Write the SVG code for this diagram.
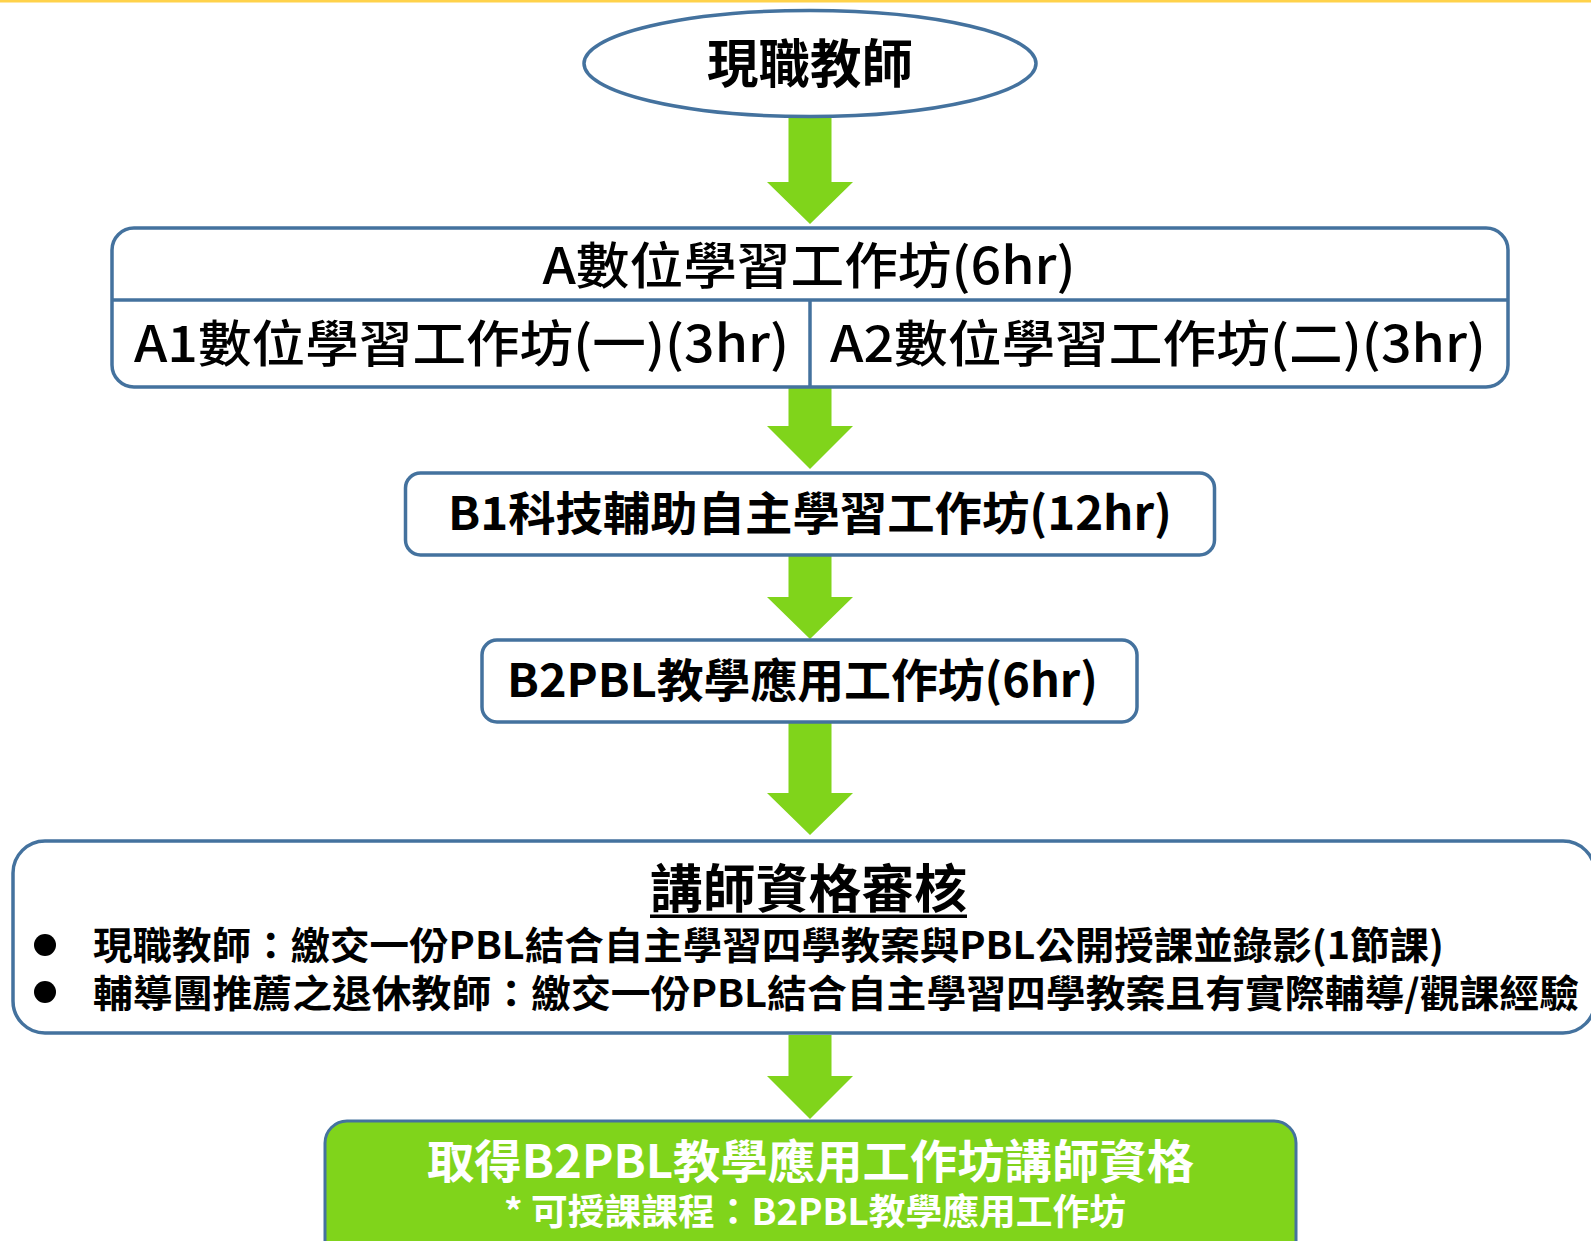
<svg xmlns="http://www.w3.org/2000/svg" width="1591" height="1241" viewBox="0 0 1591 1241">
  <style>
    text { font-family: "Noto Sans CJK TC", "Noto Sans CJK SC", "Noto Sans", sans-serif; fill: #000; }
    .box { fill: #ffffff; stroke: #44729E; stroke-width: 3.5; }
    .line { stroke: #44729E; stroke-width: 3.5; fill: none; }
    .arrow { fill: #80D41B; stroke: none; }
    .c { text-anchor: middle; }
    .m { font-weight: 500; }
    .b { font-weight: 700; }
    .w { fill: #ffffff; }
  </style>
  <rect x="0" y="0" width="1591" height="1241" fill="#ffffff"/>
  <rect x="0" y="0" width="1591" height="2.5" fill="#FFD24A"/>

  <g id="connectors">
    <polygon class="arrow" points="788.5,116 831.5,116 831.5,182 853,182 810,224 767,182 788.5,182"/>
    <polygon class="arrow" points="788.5,388 831.5,388 831.5,426 853,426 810,469 767,426 788.5,426"/>
    <polygon class="arrow" points="788.5,556 831.5,556 831.5,597 853,597 810,639 767,597 788.5,597"/>
    <polygon class="arrow" points="788.5,723 831.5,723 831.5,793 853,793 810,835 767,793 788.5,793"/>
    <polygon class="arrow" points="788.5,1035 831.5,1035 831.5,1076 853,1076 810,1119 767,1076 788.5,1076"/>
  </g>

  <g id="start">
    <ellipse class="box" cx="810" cy="63.5" rx="226" ry="53"/>
    <text class="c b" x="810" y="83" font-size="52" textLength="206" lengthAdjust="spacingAndGlyphs">現職教師</text>
  </g>

  <g id="nodeA">
    <rect class="box" x="112" y="228" width="1396" height="159" rx="22"/>
    <line class="line" x1="112" y1="300" x2="1508" y2="300"/>
    <line class="line" x1="810" y1="300" x2="810" y2="387"/>
    <text class="c m" x="809" y="284" font-size="50" textLength="533" lengthAdjust="spacingAndGlyphs">A數位學習工作坊(6hr)</text>
  </g>
  <g id="nodeA1">
    <text class="c m" x="461.5" y="362" font-size="50" textLength="655" lengthAdjust="spacingAndGlyphs">A1數位學習工作坊(一)(3hr)</text>
  </g>
  <g id="nodeA2">
    <text class="c m" x="1158" y="362" font-size="50" textLength="656" lengthAdjust="spacingAndGlyphs">A2數位學習工作坊(二)(3hr)</text>
  </g>

  <g id="nodeB1">
    <rect class="box" x="405.5" y="473" width="809" height="82" rx="15"/>
    <text class="c b" x="810" y="530" font-size="46" textLength="724" lengthAdjust="spacingAndGlyphs">B1科技輔助自主學習工作坊(12hr)</text>
  </g>

  <g id="nodeB2">
    <rect class="box" x="482" y="640" width="655" height="82" rx="15"/>
    <text class="c b" x="802.5" y="697" font-size="46" textLength="591" lengthAdjust="spacingAndGlyphs">B2PBL教學應用工作坊(6hr)</text>
  </g>

  <g id="review">
    <rect class="box" x="13" y="841" width="1582" height="192" rx="32"/>
    <text class="c b" x="808.5" y="908" font-size="52" textLength="317" lengthAdjust="spacingAndGlyphs">講師資格審核</text>
    <rect x="650" y="914.5" width="317" height="3.5" fill="#000"/>
    <circle cx="45" cy="945" r="11" fill="#000"/>
    <circle cx="45" cy="992" r="11" fill="#000"/>
    <text class="b" x="93" y="959" font-size="38" textLength="1351" lengthAdjust="spacingAndGlyphs">現職教師：繳交一份PBL結合自主學習四學教案與PBL公開授課並錄影(1節課)</text>
    <text class="b" x="93" y="1007" font-size="38" textLength="1486" lengthAdjust="spacingAndGlyphs">輔導團推薦之退休教師：繳交一份PBL結合自主學習四學教案且有實際輔導/觀課經驗</text>
  </g>

  <g id="result">
    <rect x="325" y="1121" width="971" height="160" rx="22" fill="#80D41B" stroke="#44729E" stroke-width="3"/>
    <text class="c b w" x="810.5" y="1178" font-size="46" textLength="767" lengthAdjust="spacingAndGlyphs">取得B2PBL教學應用工作坊講師資格</text>
    <text class="c b w" x="815" y="1225" font-size="36" textLength="622" lengthAdjust="spacingAndGlyphs">* 可授課課程：B2PBL教學應用工作坊</text>
  </g>
</svg>
